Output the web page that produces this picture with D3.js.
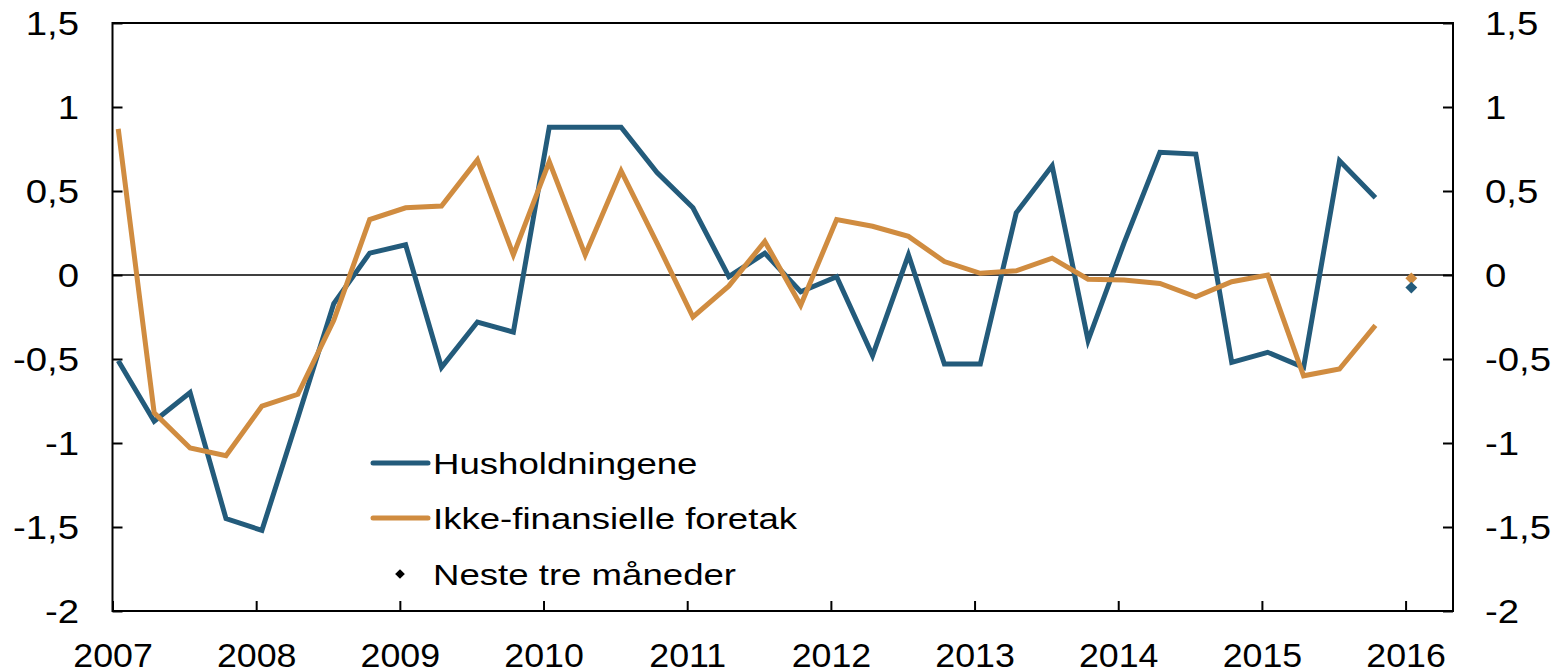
<!DOCTYPE html>
<html>
<head>
<meta charset="utf-8">
<script src="https://cdn.jsdelivr.net/npm/d3@7"></script>
<style>
  html, body { margin: 0; padding: 0; background: #fff; }
  svg { display: block; font-family: "Liberation Sans", Arial, sans-serif; }
</style>
</head>
<body>
<svg id="chart" width="1554" height="672"></svg>
<script>
// ---- Data ----
const quarters = [
  "2007K1","2007K2","2007K3","2007K4",
  "2008K1","2008K2","2008K3","2008K4",
  "2009K1","2009K2","2009K3","2009K4",
  "2010K1","2010K2","2010K3","2010K4",
  "2011K1","2011K2","2011K3","2011K4",
  "2012K1","2012K2","2012K3","2012K4",
  "2013K1","2013K2","2013K3","2013K4",
  "2014K1","2014K2","2014K3","2014K4",
  "2015K1","2015K2","2015K3","2015K4"
];
const husholdningene = [
  -0.51, -0.87, -0.70, -1.45,
  -1.52, -0.85, -0.17, 0.13,
  0.18, -0.55, -0.28, -0.34,
  0.88, 0.88, 0.88, 0.61,
  0.40, -0.01, 0.13, -0.10,
  -0.01, -0.48, 0.12, -0.53,
  -0.53, 0.37, 0.65, -0.39,
  0.19, 0.73, 0.72, -0.52,
  -0.46, -0.55, 0.68, 0.46
];
const foretak = [
  0.87, -0.82, -1.03, -1.075,
  -0.78, -0.71, -0.27, 0.33,
  0.40, 0.41, 0.685, 0.12,
  0.675, 0.12, 0.62, 0.19,
  -0.25, -0.065, 0.20, -0.18,
  0.33, 0.29, 0.23, 0.08,
  0.01, 0.025, 0.10, -0.025,
  -0.03, -0.05, -0.13, -0.04,
  0.0, -0.60, -0.56, -0.30
];
const nesteQuarter = "2016K1";
const nesteHusholdningene = -0.075;
const nesteForetak = -0.02;

const yTicks = [-2, -1.5, -1, -0.5, 0, 0.5, 1, 1.5];
const yearTicks = [2007, 2008, 2009, 2010, 2011, 2012, 2013, 2014, 2015, 2016];
const seriesNames = ["Husholdningene", "Ikke-finansielle foretak", "Neste tre måneder"];

// ---- Layout / style ----
const colors = { hus: "#235b7b", for: "#d08c40" };
const plotLeft = 112.5, plotRight = 1453, plotTop = 23, plotBottom = 611;
const fontTick = 32.5, stretchTick = 1.18, stretchYear = 1.1;
const fontLegend = 30, stretchLegend = 1.22;

const svg = d3.select("#chart");

// quarter label -> fractional year (positioned early in each quarter)
function qPos(q) {
  const yr = +q.slice(0, 4), k = +q.slice(5);
  return yr + (k - 1) * 0.25 + 0.04;
}

const x = d3.scaleLinear().domain([2007, 2016.33]).range([plotLeft, plotRight]);
const y = d3.scaleLinear().domain([-2, 1.5]).range([plotBottom, plotTop]);

const fmt = v => String(v).replace(".", ",");

function stretchTexts(sel, dx, sx) {
  sel.selectAll("text")
    .attr("x", 0)
    .attr("transform", `translate(${dx},0) scale(${sx},1)`);
}

// Left axis
const gL = svg.append("g").attr("transform", `translate(${plotLeft},0)`)
  .call(d3.axisLeft(y).tickValues(yTicks).tickFormat(fmt).tickSizeInner(-10).tickSizeOuter(0).tickPadding(0));
gL.select(".domain").remove();
gL.selectAll("line").attr("stroke", "#000").attr("stroke-width", 2);
gL.selectAll("text").attr("font-size", fontTick).attr("fill", "#000").attr("dy", "0.36em")
  .attr("font-family", "Liberation Sans, Arial, sans-serif").attr("text-anchor", "end");
stretchTexts(gL, -33.5, stretchTick);

// Right axis
const gR = svg.append("g").attr("transform", `translate(${plotRight},0)`)
  .call(d3.axisRight(y).tickValues(yTicks).tickFormat(fmt).tickSizeInner(-10).tickSizeOuter(0).tickPadding(0));
gR.select(".domain").remove();
gR.selectAll("line").attr("stroke", "#000").attr("stroke-width", 2);
gR.selectAll("text").attr("font-size", fontTick).attr("fill", "#000").attr("dy", "0.36em")
  .attr("font-family", "Liberation Sans, Arial, sans-serif").attr("text-anchor", "start");
stretchTexts(gR, 32, stretchTick);

// Bottom axis
const gB = svg.append("g").attr("transform", `translate(0,${plotBottom})`)
  .call(d3.axisBottom(x).tickValues(yearTicks).tickFormat(d3.format("d")).tickSizeInner(-10).tickSizeOuter(0).tickPadding(0));
gB.select(".domain").remove();
gB.selectAll("line").attr("stroke", "#000").attr("stroke-width", 2);
gB.selectAll("text").attr("font-size", fontTick).attr("fill", "#000").attr("dy", 0).attr("y", 0)
  .attr("font-family", "Liberation Sans, Arial, sans-serif").attr("text-anchor", "middle");
gB.selectAll("text").attr("x", 0).attr("transform", `translate(0,55.5) scale(${stretchYear},1)`);

// Frame
svg.append("rect")
  .attr("x", plotLeft).attr("y", plotTop)
  .attr("width", plotRight - plotLeft).attr("height", plotBottom - plotTop)
  .attr("fill", "none").attr("stroke", "#000").attr("stroke-width", 2);

// Zero line
svg.append("line")
  .attr("x1", plotLeft).attr("x2", plotRight)
  .attr("y1", y(0)).attr("y2", y(0))
  .attr("stroke", "#000").attr("stroke-width", 1.5);

// Lines
const line = d3.line().x(d => x(qPos(d.q))).y(d => y(d.v));
const husData = quarters.map((q, i) => ({ q, v: husholdningene[i] }));
const forData = quarters.map((q, i) => ({ q, v: foretak[i] }));

svg.append("path").datum(husData).attr("d", line)
  .attr("fill", "none").attr("stroke", colors.hus).attr("stroke-width", 5)
  .attr("stroke-linejoin", "miter").attr("stroke-linecap", "butt");
svg.append("path").datum(forData).attr("d", line)
  .attr("fill", "none").attr("stroke", colors.for).attr("stroke-width", 5)
  .attr("stroke-linejoin", "miter").attr("stroke-linecap", "butt");

// Diamonds (next three months)
const diamond = d3.symbol().type(d3.symbolDiamond2).size(90);
svg.append("path").attr("d", diamond)
  .attr("transform", `translate(${x(qPos(nesteQuarter))},${y(nesteForetak)})`)
  .attr("fill", colors.for);
svg.append("path").attr("d", diamond)
  .attr("transform", `translate(${x(qPos(nesteQuarter))},${y(nesteHusholdningene)})`)
  .attr("fill", colors.hus);

// Legend
const legendX = 373, legendTextX = 433;
const legendRows = [463, 518, 574];
const lg = svg.append("g");
[colors.hus, colors.for].forEach((c, i) => {
  lg.append("line")
    .attr("x1", legendX).attr("x2", legendX + 55)
    .attr("y1", legendRows[i]).attr("y2", legendRows[i])
    .attr("stroke", c).attr("stroke-width", 5).attr("stroke-linecap", "round");
});
lg.append("path").attr("d", d3.symbol().type(d3.symbolDiamond2).size(60))
  .attr("transform", `translate(400,${legendRows[2]})`).attr("fill", "#000");
seriesNames.forEach((name, i) => {
  lg.append("text")
    .attr("transform", `translate(${legendTextX},${legendRows[i] + 11}) scale(${stretchLegend},1)`)
    .attr("font-size", fontLegend).attr("fill", "#000")
    .text(name);
});
</script>
</body>
</html>
